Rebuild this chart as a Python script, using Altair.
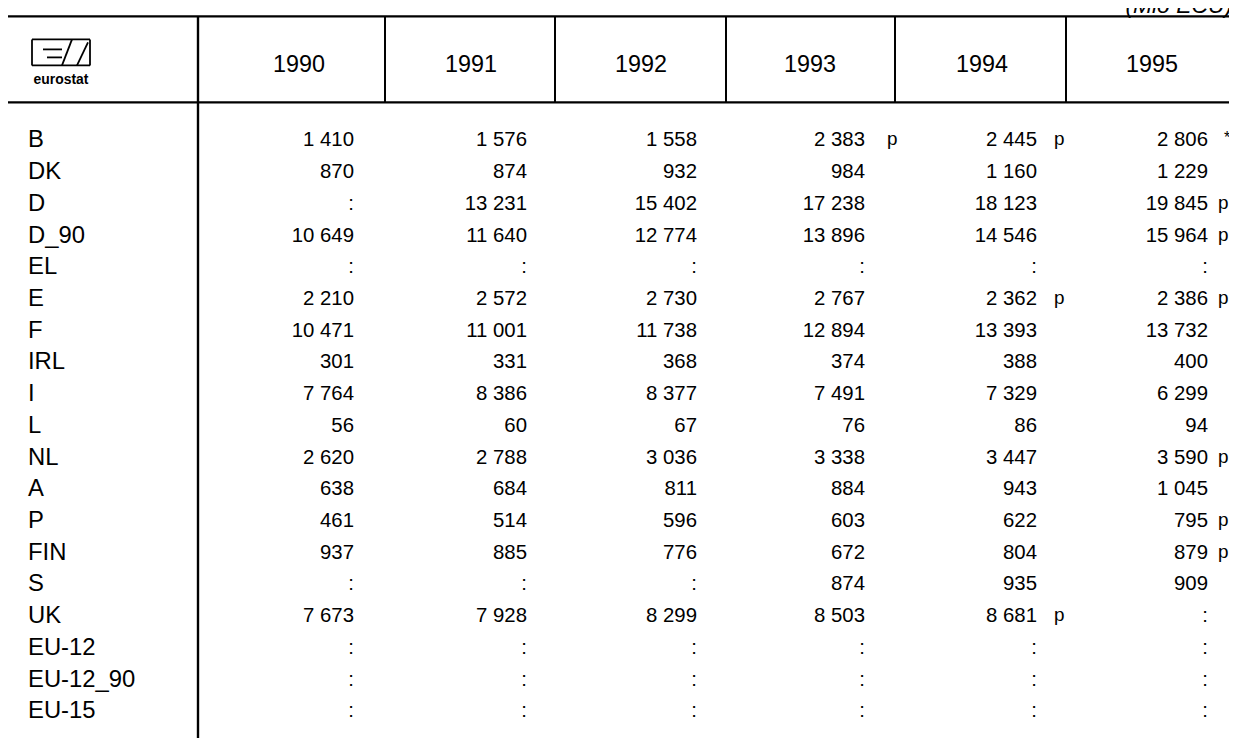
import altair as alt
import pandas as pd

# ---------------- data ----------------
countries = ["B", "DK", "D", "D_90", "EL", "E", "F", "IRL", "I", "L", "NL", "A",
             "P", "FIN", "S", "UK", "EU-12", "EU-12_90", "EU-15"]
years = ["1990", "1991", "1992", "1993", "1994", "1995"]

v1990 = [1410, 870, None, 10649, None, 2210, 10471, 301, 7764, 56, 2620, 638,
         461, 937, None, 7673, None, None, None]
v1991 = [1576, 874, 13231, 11640, None, 2572, 11001, 331, 8386, 60, 2788, 684,
         514, 885, None, 7928, None, None, None]
v1992 = [1558, 932, 15402, 12774, None, 2730, 11738, 368, 8377, 67, 3036, 811,
         596, 776, None, 8299, None, None, None]
v1993 = [2383, 984, 17238, 13896, None, 2767, 12894, 374, 7491, 76, 3338, 884,
         603, 672, 874, 8503, None, None, None]
v1994 = [2445, 1160, 18123, 14546, None, 2362, 13393, 388, 7329, 86, 3447, 943,
         622, 804, 935, 8681, None, None, None]
v1995 = [2806, 1229, 19845, 15964, None, 2386, 13732, 400, 6299, 94, 3590, 1045,
         795, 879, 909, None, None, None, None]

f1990 = [""] * 19
f1991 = [""] * 19
f1992 = [""] * 19
f1993 = ["p", "", "", "", "", "", "", "", "", "", "", "", "", "", "", "", "", "", ""]
f1994 = ["p", "", "", "", "", "p", "", "", "", "", "", "", "", "", "", "p", "", "", ""]
f1995 = ["*", "", "p", "p", "", "p", "", "", "", "", "p", "", "p", "p", "", "", "", "", ""]

unit_label = "(Mio ECU)"
logo_label = "eurostat"

values = [v1990, v1991, v1992, v1993, v1994, v1995]
flags = [f1990, f1991, f1992, f1993, f1994, f1995]

# ---------------- layout (in page units) ----------------
W, H = 1229, 736
K = 1221 / 1229            # the page shrinks the svg to fit its body width
X0, Y0 = 8, 8
X1, Y1 = X0 + W * K, Y0 + H * K
FONT = "Liberation Sans"

col_bounds = [198, 385, 555, 726, 895, 1066]
right_end = X1
header_x = [299, 471, 641, 810, 982, 1152]
num_right = [354, 527, 697, 865, 1037, 1208]
flag_left = [0, 0, 0, 887, 1054, 1218]
label_x = 28
row0, row_step = 138, 31.72
top_y, head_y, header_text_y = 14, 100, 63


def row_y(i):
    return row0 + row_step * i


def fmt(v):
    return ":" if v is None else f"{v:,}".replace(",", " ")


xs = alt.Scale(domain=[X0, X1], range=[0, W], nice=False, zero=False)
ys = alt.Scale(domain=[Y0, Y1], range=[0, H], nice=False, zero=False)


def X(f="x"):
    return alt.X(f"{f}:Q", scale=xs, axis=None)


def Y(f="y"):
    return alt.Y(f"{f}:Q", scale=ys, axis=None)


# rules (table grid + logo)
segs = [
    (X0, top_y, right_end, top_y, 2.4),
    (X0, head_y, right_end, head_y, 2.4),
    (col_bounds[0], top_y, col_bounds[0], Y1, 2.4),
]
for cx in col_bounds[1:]:
    segs.append((cx, top_y, cx, head_y, 2.0))
# eurostat logo
segs += [
    (32, 37, 90, 37, 1.8), (32, 63, 90, 63, 1.8),
    (32, 37, 32, 63, 1.8), (90, 37, 90, 63, 1.8),
    (43, 47, 62, 47, 1.8), (47, 55, 62, 55, 1.8),
    (62, 63, 72, 37, 1.8), (77, 63, 88, 40, 1.8),
]
seg_df = pd.DataFrame(segs, columns=["x", "y", "x2", "y2", "w"])

rules = alt.Chart(seg_df).mark_rule(color="black").encode(
    x=X(), y=Y(), x2="x2:Q", y2="y2:Q",
    strokeWidth=alt.StrokeWidth("w:Q", scale=None),
)

header_df = pd.DataFrame({"x": header_x, "y": [header_text_y] * 6, "t": years})
header = alt.Chart(header_df).mark_text(
    align="center", baseline="middle", font=FONT, fontSize=23.5, color="black"
).encode(x=X(), y=Y(), text="t:N")

label_df = pd.DataFrame({"x": [label_x] * len(countries),
                         "y": [row_y(i) for i in range(len(countries))],
                         "t": countries})
labels = alt.Chart(label_df).mark_text(
    align="left", baseline="middle", font=FONT, fontSize=24, color="black"
).encode(x=X(), y=Y(), text="t:N")

num_rows, flag_rows, star_rows = [], [], []
for j in range(len(years)):
    for i in range(len(countries)):
        num_rows.append({"x": num_right[j], "y": row_y(i), "t": fmt(values[j][i])})
        fl = flags[j][i]
        if fl == "p":
            flag_rows.append({"x": flag_left[j], "y": row_y(i), "t": fl})
        elif fl == "*":
            star_rows.append({"x": flag_left[j] + 6, "y": row_y(i) - 2, "t": fl})

nums = alt.Chart(pd.DataFrame(num_rows)).mark_text(
    align="right", baseline="middle", font=FONT, fontSize=20.5, color="black"
).encode(x=X(), y=Y(), text="t:N")

flag_txt = alt.Chart(pd.DataFrame(flag_rows)).mark_text(
    align="left", baseline="middle", font=FONT, fontSize=19, color="black", dy=-1
).encode(x=X(), y=Y(), text="t:N")

star_txt = alt.Chart(pd.DataFrame(star_rows)).mark_text(
    align="left", baseline="middle", font=FONT, fontSize=16, color="black"
).encode(x=X(), y=Y(), text="t:N")

unit_txt = alt.Chart(pd.DataFrame({"x": [1232], "y": [11], "t": [unit_label]})).mark_text(
    align="right", baseline="alphabetic", font=FONT, fontSize=23,
    fontStyle="italic", color="black"
).encode(x=X(), y=Y(), text="t:N")

logo_txt = alt.Chart(pd.DataFrame({"x": [61], "y": [78], "t": [logo_label]})).mark_text(
    align="center", baseline="middle", font=FONT, fontSize=14,
    fontWeight="bold", color="black"
).encode(x=X(), y=Y(), text="t:N")

chart = alt.layer(
    rules, header, labels, nums, flag_txt, star_txt, unit_txt, logo_txt
).properties(
    width=W, height=H,
    autosize=alt.AutoSizeParams(type="none"),
    padding=0,
    background="white",
).configure_view(strokeWidth=0)

chart.save("out.html", embed_options={"renderer": "svg", "actions": False})
